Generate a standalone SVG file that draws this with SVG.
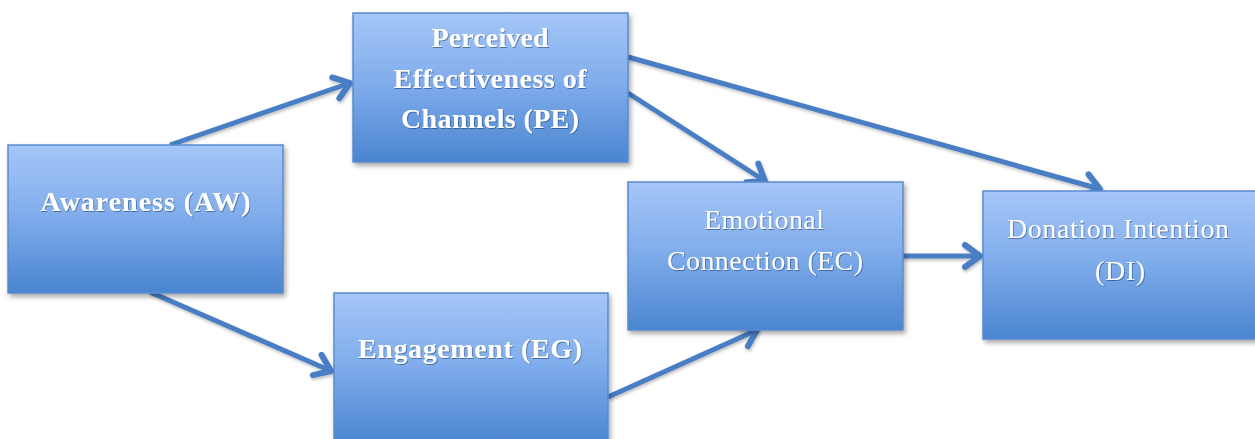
<svg xmlns="http://www.w3.org/2000/svg" width="1255" height="439" viewBox="0 0 1255 439">
  <defs>
    <linearGradient id="boxFill" x1="0" y1="0" x2="0" y2="1">
      <stop offset="0" stop-color="#a5c6f8"/>
      <stop offset="0.45" stop-color="#82aeec"/>
      <stop offset="1" stop-color="#4a85d0"/>
    </linearGradient>
    <filter id="boxShadow" x="-10%" y="-10%" width="125%" height="130%">
      <feDropShadow dx="2" dy="3" stdDeviation="2.5" flood-color="#000" flood-opacity="0.35"/>
    </filter>
    <filter id="lineShadow" x="-10%" y="-20%" width="120%" height="140%">
      <feDropShadow dx="1" dy="2" stdDeviation="1.5" flood-color="#000" flood-opacity="0.25"/>
    </filter>
    <filter id="textShadow" x="-5%" y="-20%" width="110%" height="140%">
      <feDropShadow dx="0.8" dy="1" stdDeviation="0.6" flood-color="#1f3f73" flood-opacity="0.6"/>
    </filter>
    <marker id="arrowOpen" markerUnits="userSpaceOnUse" markerWidth="40" markerHeight="40" viewBox="-20 -20 40 40" refX="0" refY="0" orient="auto">
      <path d="M -15 -11 L 0 0 L -15 11" fill="none" stroke="#4a7ec4" stroke-width="6" stroke-linecap="round" stroke-linejoin="round"/>
    </marker>
  </defs>
  <style>
    .box { fill: url(#boxFill); stroke: #5a8ad0; stroke-width: 1.5; filter: url(#boxShadow); }
    .lbl { fill: #ffffff; font-family: "Liberation Serif", "Times New Roman", serif; text-anchor: middle; filter: url(#textShadow); }
    .b { font-weight: bold; font-size: 28px; }
    .r { font-weight: normal; font-size: 28px; }
    .edge { fill: none; stroke: #4a7ec4; stroke-width: 5; marker-end: url(#arrowOpen); }
  </style>

  <rect width="1255" height="439" fill="#ffffff"/>

  <!-- connectors -->
  <g id="connectors" filter="url(#lineShadow)">
    <line class="edge" x1="170" y1="145" x2="350" y2="83"/>
    <line class="edge" x1="150" y1="292" x2="331" y2="371"/>
    <line class="edge" x1="628" y1="93" x2="765" y2="181"/>
    <line class="edge" x1="628" y1="57" x2="1100" y2="189"/>
    <line class="edge" x1="608" y1="397" x2="757" y2="330"/>
    <line class="edge" x1="903" y1="256" x2="980" y2="256"/>
  </g>

  <!-- Awareness -->
  <g id="node-aw">
    <rect class="box" x="8" y="145" width="275" height="148"/>
    <text class="lbl b" x="145.5" y="211" textLength="210" lengthAdjust="spacing">Awareness (AW)</text>
  </g>

  <!-- Perceived Effectiveness of Channels -->
  <g id="node-pe">
    <rect class="box" x="353" y="13" width="275" height="149"/>
    <text class="lbl b" x="490" y="47" textLength="117" lengthAdjust="spacing">Perceived</text>
    <text class="lbl b" x="490" y="88" textLength="193" lengthAdjust="spacing">Effectiveness of</text>
    <text class="lbl b" x="490" y="128" textLength="178" lengthAdjust="spacing">Channels (PE)</text>
  </g>

  <!-- Engagement -->
  <g id="node-eg">
    <rect class="box" x="334" y="293" width="274" height="152"/>
    <text class="lbl b" x="470" y="358" textLength="224" lengthAdjust="spacing">Engagement (EG)</text>
  </g>

  <!-- Emotional Connection -->
  <g id="node-ec">
    <rect class="box" x="628" y="182" width="275" height="148"/>
    <text class="lbl r" x="764" y="229" textLength="120" lengthAdjust="spacing">Emotional</text>
    <text class="lbl r" x="765" y="270" textLength="196" lengthAdjust="spacing">Connection (EC)</text>
  </g>

  <!-- Donation Intention -->
  <g id="node-di">
    <rect class="box" x="983" y="191" width="280" height="148"/>
    <text class="lbl r" x="1118" y="238" textLength="222" lengthAdjust="spacing">Donation Intention</text>
    <text class="lbl r" x="1120" y="280" textLength="50" lengthAdjust="spacing">(DI)</text>
  </g>
</svg>
